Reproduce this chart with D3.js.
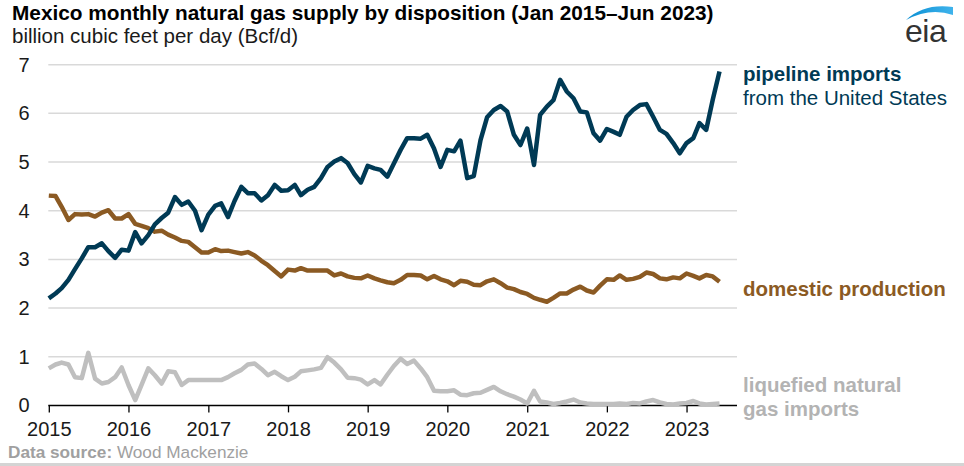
<!DOCTYPE html>
<html><head><meta charset="utf-8">
<script src="https://cdn.jsdelivr.net/npm/d3@7"></script>
<style>
html,body{margin:0;padding:0;background:#fff;}
svg{display:block;font-family:"Liberation Sans",Arial,sans-serif;}
</style></head>
<body>
<svg id="chart" width="964" height="466"></svg>
<script>
// ---- data ----
const startMonth = "2015-01";
const yearTicks = ["2015","2016","2017","2018","2019","2020","2021","2022","2023"];
const yTicks = [0,1,2,3,4,5,6,7];
const pipelineImports = [
 2.20,2.30,2.41,2.58,2.80,3.02,3.25,3.25,3.33,3.17,3.03,3.20,
 3.18,3.56,3.33,3.50,3.72,3.85,3.96,4.28,4.12,4.19,4.00,3.60,
 3.92,4.10,4.15,3.87,4.20,4.49,4.36,4.36,4.21,4.32,4.53,4.41,
 4.42,4.53,4.32,4.43,4.49,4.67,4.90,5.01,5.08,4.98,4.75,4.58,
 4.92,4.87,4.84,4.70,4.97,5.25,5.49,5.49,5.48,5.56,5.28,4.90,
 5.25,5.22,5.44,4.67,4.71,5.45,5.92,6.07,6.15,6.04,5.56,5.35,
 5.69,4.94,5.97,6.14,6.27,6.69,6.45,6.31,6.04,6.02,5.59,5.44,
 5.68,5.62,5.56,5.93,6.07,6.17,6.19,5.93,5.66,5.58,5.39,5.18,
 5.39,5.49,5.80,5.66,6.28,6.86];
const domesticProduction = [
 4.31,4.30,4.08,3.81,3.93,3.92,3.93,3.88,3.96,4.01,3.84,3.84,
 3.93,3.73,3.69,3.64,3.57,3.59,3.51,3.45,3.38,3.36,3.25,3.14,
 3.14,3.21,3.17,3.18,3.15,3.12,3.15,3.08,2.97,2.88,2.76,2.65,
 2.79,2.77,2.82,2.77,2.77,2.77,2.77,2.67,2.71,2.65,2.62,2.61,
 2.67,2.61,2.57,2.53,2.51,2.58,2.68,2.68,2.67,2.59,2.66,2.59,
 2.55,2.47,2.56,2.54,2.48,2.47,2.55,2.59,2.51,2.42,2.39,2.33,
 2.29,2.21,2.17,2.13,2.21,2.30,2.30,2.38,2.44,2.36,2.32,2.46,
 2.59,2.58,2.67,2.58,2.60,2.64,2.73,2.70,2.61,2.59,2.63,2.61,
 2.71,2.66,2.61,2.68,2.65,2.54];
const lngImports = [
 0.76,0.84,0.88,0.84,0.58,0.56,1.08,0.55,0.45,0.48,0.58,0.78,
 0.42,0.11,0.42,0.76,0.62,0.45,0.70,0.68,0.42,0.52,0.52,0.52,
 0.52,0.52,0.52,0.58,0.66,0.73,0.84,0.86,0.75,0.62,0.69,0.60,
 0.52,0.59,0.70,0.72,0.74,0.77,0.99,0.88,0.74,0.57,0.56,0.53,
 0.43,0.52,0.43,0.63,0.81,0.96,0.85,0.92,0.76,0.58,0.30,0.29,
 0.29,0.31,0.22,0.21,0.25,0.26,0.32,0.38,0.29,0.23,0.18,0.12,
 0.04,0.30,0.08,0.06,0.03,0.05,0.08,0.12,0.06,0.04,0.03,0.03,
 0.03,0.03,0.04,0.03,0.05,0.04,0.08,0.11,0.06,0.03,0.02,0.04,
 0.05,0.09,0.04,0.02,0.03,0.04];

const seriesColors = {pipe:"#003a55", dom:"#8b5a23", lng:"#bfbfbf"};

// ---- chart ----
const svg = d3.select("#chart");
const parse = d3.timeParse("%Y-%m");
const t0 = parse(startMonth);
const dates = pipelineImports.map((_, i) => d3.timeMonth.offset(t0, i));
const tEnd = dates[dates.length - 1];

const x = d3.scaleTime().domain([t0, tEnd]).range([48.8, 719.5]);
const y = d3.scaleLinear().domain([0, 7]).range([405.4, 64.7]);
const plotLeft = 48.3, plotRight = 737;

// gridlines
svg.append("g").selectAll("line").data(yTicks.filter(d => d > 0)).join("line")
  .attr("x1", plotLeft).attr("x2", plotRight)
  .attr("y1", d => y(d)).attr("y2", d => y(d))
  .attr("stroke", "#d9d9d9").attr("stroke-width", 1.5);

// y labels
svg.append("g").selectAll("text").data(yTicks).join("text")
  .attr("x", 29.5).attr("y", d => y(d) + 7)
  .attr("text-anchor", "end").attr("font-size", 20).attr("fill", "#1a1a1a")
  .text(d => d);

// x axis
const yearDates = yearTicks.map(s => d3.timeParse("%Y")(s));
const xAxis = d3.axisBottom(x).tickValues(yearDates).tickSize(7).tickSizeOuter(0)
  .tickFormat((d, i) => yearTicks[i]);
const gx = svg.append("g").attr("transform", `translate(0,${y(0)})`).call(xAxis);
gx.select(".domain").remove();
gx.selectAll(".tick line").attr("stroke", "#000").attr("stroke-width", 1.3);
gx.selectAll(".tick text").attr("font-size", 20).attr("fill", "#1a1a1a")
  .attr("font-family", "Liberation Sans, Arial, sans-serif").attr("dy", 0).attr("y", 31);
svg.append("line").attr("x1", plotLeft).attr("x2", plotRight)
  .attr("y1", y(0)).attr("y2", y(0)).attr("stroke", "#000").attr("stroke-width", 1.5);

// lines
const line = d3.line().x((d, i) => x(dates[i])).y(d => y(d)).curve(d3.curveLinear);
[[lngImports, seriesColors.lng], [domesticProduction, seriesColors.dom], [pipelineImports, seriesColors.pipe]]
  .forEach(([vals, c]) => {
    svg.append("path").datum(vals).attr("d", line)
      .attr("fill", "none").attr("stroke", c).attr("stroke-width", 4.5)
      .attr("stroke-linejoin", "round").attr("stroke-linecap", "butt");
  });

// titles
svg.append("text").attr("x", 12).attr("y", 20).attr("font-size", 20.8).attr("font-weight", "bold")
  .attr("fill", "#000").text("Mexico monthly natural gas supply by disposition (Jan 2015\u2013Jun 2023)");
svg.append("text").attr("x", 12).attr("y", 43).attr("font-size", 20.5).attr("fill", "#1a1a1a")
  .text("billion cubic feet per day (Bcf/d)");

// series labels
const lx = 743;
svg.append("text").attr("x", lx).attr("y", 81).attr("font-size", 20.5).attr("font-weight", "bold")
  .attr("fill", seriesColors.pipe).text("pipeline imports");
svg.append("text").attr("x", lx).attr("y", 105).attr("font-size", 20.5)
  .attr("fill", seriesColors.pipe).text("from the United States");
svg.append("text").attr("x", lx).attr("y", 296).attr("font-size", 20.5).attr("font-weight", "bold")
  .attr("fill", seriesColors.dom).text("domestic production");
svg.append("text").attr("x", lx).attr("y", 392).attr("font-size", 20.5).attr("font-weight", "bold")
  .attr("fill", "#b3b3b3").text("liquefied natural");
svg.append("text").attr("x", lx).attr("y", 416).attr("font-size", 20.5).attr("font-weight", "bold")
  .attr("fill", "#b3b3b3").text("gas imports");

// source
const src = svg.append("text").attr("x", 8).attr("y", 458).attr("font-size", 17.2).attr("fill", "#a0a0a0");
src.append("tspan").attr("font-weight", "bold").text("Data source: ");
src.append("tspan").text("Wood Mackenzie");
svg.append("rect").attr("x", 0).attr("y", 463).attr("width", 964).attr("height", 3).attr("fill", "#d4d4d4");

// eia logo
const defs = svg.append("defs");
const grad = defs.append("linearGradient").attr("id", "eiaGrad").attr("x1", "0").attr("x2", "1");
grad.append("stop").attr("offset", "0").attr("stop-color", "#0a8fd3");
grad.append("stop").attr("offset", "1").attr("stop-color", "#3fb3ec");
svg.append("path").attr("d", "M906,20 Q924,3 953,7 L953,15 Q930,7 906,20 Z").attr("fill", "url(#eiaGrad)");
svg.append("text").attr("x", 905).attr("y", 42).attr("font-size", 32).attr("fill", "#333")
  .attr("letter-spacing", -0.5).text("eia");
</script>
</body></html>
